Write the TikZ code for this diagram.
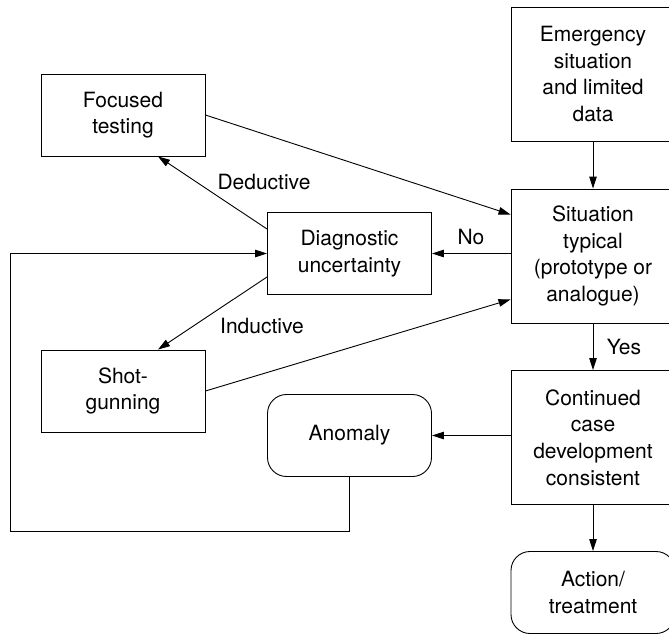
\documentclass[tikz,border=0pt]{standalone}
\usepackage{fontspec}
\setmainfont{TeX Gyre Heros}
\usetikzlibrary{arrows.meta}
\begin{document}
\begin{tikzpicture}[x=1pt,y=-1pt,
  every node/.style={font=\fontsize{21}{26.7}\selectfont, align=center},
  box/.style={draw, line width=0.9pt, minimum width=164pt, minimum height=82pt, inner sep=0pt},
  tallbox/.style={box, minimum height=134pt},
  roundbox/.style={box, rounded corners=19pt},
  link/.style={line width=0.9pt, -{Triangle[length=12pt,width=7.5pt]}},
  plain/.style={line width=0.9pt},
  lbl/.style={inner sep=0pt}]
\useasboundingbox (0,0) rectangle (669,634);
\clip (0,0) rectangle (669,634);

% boxes
\node[box]      (focused) at (123,115)   {Focused\\testing};
\node[tallbox]  (emerg)   at (593,74)    {Emergency\\situation\\and limited\\data};
\node[tallbox]  (sit)     at (593,256)   {Situation\\typical\\(prototype or\\analogue)};
\node[box]      (diag)    at (349.5,253.5) {Diagnostic\\uncertainty};
\node[box]      (shot)    at (123,391)   {Shot-\\gunning};
\node[roundbox] (anom)    at (349.5,435.5) {Anomaly};
\node[tallbox]  (cont)    at (593,437.5) {Continued\\case\\development\\consistent};
\node[roundbox] (act)     at (593,592.5) {Action/\\treatment};

% connectors
\draw[link] (emerg.south) -- (sit.north);
\draw[link] (focused.east) -- ([yshift=-26pt]sit.north west);
\draw[link] ([yshift=-17pt]diag.north west) -- ([xshift=35pt]focused.south);
\draw[link] (sit.west |- diag.east) -- (diag.east);
\draw[link] ([yshift=18pt]diag.south west) -- ([xshift=35pt]shot.north);
\draw[link] (shot.east) -- ([yshift=24pt]sit.south west);
\draw[link] (sit.south) -- (cont.north);
\draw[link] (cont.west |- anom.east) -- (anom.east);
\draw[link] (cont.south) -- (act.north);
\coordinate (loopA) at (anom.south |- 0,531);
\coordinate (loopB) at (10,531);
\coordinate (loopC) at (10,253.5);
\draw[link] (anom.south) -- (loopA) -- (loopB) -- (loopC) -- (diag.west);

% labels
\node[lbl] (ldeduct) at (264,182) {Deductive};
\node[lbl] (linduct) at (262,326) {Inductive};
\node[lbl] (lno)     at (471,237) {No};
\node[lbl] (lyes)    at (624,347) {Yes};
\end{tikzpicture}
\end{document}
